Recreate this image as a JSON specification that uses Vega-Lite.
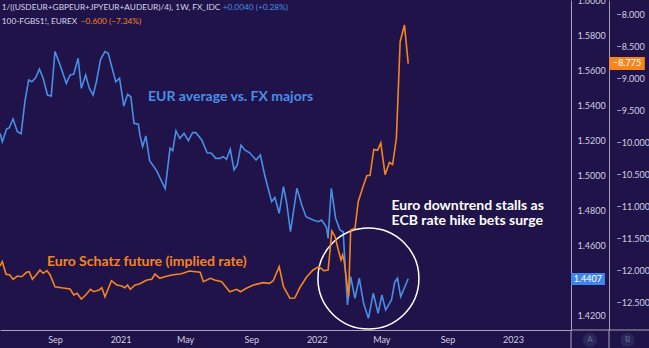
{
  "$schema": "https://vega.github.io/schema/vega-lite/v6.json",
  "width": 571,
  "height": 330,
  "autosize": {"type": "none"},
  "padding": {"left": 0, "top": 0, "right": 78, "bottom": 18},
  "background": "#1f1349",
  "config": {"view": {"stroke": null}, "font": "Lato"},
  "datasets": {
    "eur": [
      {"d":"2020-05-22","v":1.5238},{"d":"2020-05-26","v":1.5190},{"d":"2020-06-03","v":1.5263},{"d":"2020-06-08","v":1.5270},
      {"d":"2020-06-15","v":1.5320},{"d":"2020-06-23","v":1.5247},{"d":"2020-06-30","v":1.5236},{"d":"2020-07-07","v":1.5419},
      {"d":"2020-07-14","v":1.5543},{"d":"2020-07-20","v":1.5533},{"d":"2020-07-27","v":1.5556},{"d":"2020-08-03","v":1.5606},
      {"d":"2020-08-10","v":1.5553},{"d":"2020-08-18","v":1.5457},{"d":"2020-08-25","v":1.5451},{"d":"2020-09-01","v":1.5705},
      {"d":"2020-09-10","v":1.5633},{"d":"2020-09-22","v":1.5524},{"d":"2020-09-29","v":1.5571},{"d":"2020-10-06","v":1.5577},
      {"d":"2020-10-14","v":1.5667},{"d":"2020-10-20","v":1.5495},{"d":"2020-10-28","v":1.5571},{"d":"2020-11-04","v":1.5495},
      {"d":"2020-11-11","v":1.5457},{"d":"2020-11-17","v":1.5533},{"d":"2020-11-25","v":1.5663},{"d":"2020-12-03","v":1.5705},
      {"d":"2020-12-09","v":1.5695},{"d":"2020-12-23","v":1.5533},{"d":"2020-12-30","v":1.5553},{"d":"2021-01-07","v":1.5394},
      {"d":"2021-01-14","v":1.5461},{"d":"2021-01-20","v":1.5447},{"d":"2021-01-26","v":1.5295},{"d":"2021-02-03","v":1.5290},
      {"d":"2021-02-06","v":1.5229},{"d":"2021-02-11","v":1.5162},{"d":"2021-02-17","v":1.5223},{"d":"2021-02-24","v":1.5082},
      {"d":"2021-03-09","v":1.5025},{"d":"2021-03-25","v":1.4922},{"d":"2021-04-03","v":1.5153},{"d":"2021-04-08","v":1.5139},
      {"d":"2021-04-14","v":1.5253},{"d":"2021-04-21","v":1.5210},{"d":"2021-04-29","v":1.5238},{"d":"2021-05-07","v":1.5196},
      {"d":"2021-05-15","v":1.5242},{"d":"2021-05-21","v":1.5242},{"d":"2021-06-01","v":1.5200},{"d":"2021-06-11","v":1.5127},
      {"d":"2021-06-19","v":1.5124},{"d":"2021-06-27","v":1.5095},{"d":"2021-07-05","v":1.5095},{"d":"2021-07-11","v":1.5105},
      {"d":"2021-07-17","v":1.5090},{"d":"2021-07-24","v":1.5147},{"d":"2021-07-31","v":1.5029},{"d":"2021-08-06","v":1.5057},
      {"d":"2021-08-13","v":1.5171},{"d":"2021-08-20","v":1.5143},{"d":"2021-08-29","v":1.5127},{"d":"2021-09-10","v":1.5086},
      {"d":"2021-09-18","v":1.5114},{"d":"2021-09-26","v":1.5000},{"d":"2021-10-09","v":1.4847},{"d":"2021-10-15","v":1.4871},
      {"d":"2021-10-23","v":1.4781},{"d":"2021-10-31","v":1.4933},{"d":"2021-11-06","v":1.4838},{"d":"2021-11-13","v":1.4676},
      {"d":"2021-11-25","v":1.4924},{"d":"2021-12-04","v":1.4829},{"d":"2021-12-12","v":1.4762},{"d":"2021-12-25","v":1.4743},
      {"d":"2022-01-04","v":1.4733},{"d":"2022-01-10","v":1.4743},{"d":"2022-01-19","v":1.4701},{"d":"2022-01-22","v":1.4638},
      {"d":"2022-01-28","v":1.4924},{"d":"2022-02-05","v":1.4753},{"d":"2022-02-13","v":1.4686},{"d":"2022-02-19","v":1.4676},
      {"d":"2022-02-27","v":1.4257},{"d":"2022-03-05","v":1.4419},{"d":"2022-03-13","v":1.4295},{"d":"2022-03-21","v":1.4410},
      {"d":"2022-03-29","v":1.4267},{"d":"2022-04-07","v":1.4181},{"d":"2022-04-16","v":1.4324},{"d":"2022-04-25","v":1.4210},
      {"d":"2022-05-02","v":1.4314},{"d":"2022-05-09","v":1.4229},{"d":"2022-05-20","v":1.4286},{"d":"2022-05-26","v":1.4390},
      {"d":"2022-05-31","v":1.4410},{"d":"2022-06-06","v":1.4305},{"d":"2022-06-20","v":1.4407}
    ],
    "schatz": [
      {"d":"2020-05-22","v":-11.9375},{"d":"2020-05-26","v":-11.870},{"d":"2020-06-02","v":-12.067},{"d":"2020-06-09","v":-12.078},
      {"d":"2020-06-15","v":-12.145},{"d":"2020-06-23","v":-12.094},{"d":"2020-07-01","v":-12.105},{"d":"2020-07-10","v":-12.036},
      {"d":"2020-07-15","v":-12.027},{"d":"2020-07-21","v":-12.145},{"d":"2020-07-29","v":-12.067},{"d":"2020-08-04","v":-12.000},
      {"d":"2020-08-10","v":-12.052},{"d":"2020-08-17","v":-12.011},{"d":"2020-08-23","v":-12.078},{"d":"2020-09-01","v":-12.261},
      {"d":"2020-09-13","v":-12.277},{"d":"2020-09-29","v":-12.297},{"d":"2020-10-06","v":-12.391},{"d":"2020-10-12","v":-12.364},
      {"d":"2020-10-20","v":-12.453},{"d":"2020-10-28","v":-12.391},{"d":"2020-11-06","v":-12.302},{"d":"2020-11-12","v":-12.339},
      {"d":"2020-11-22","v":-12.313},{"d":"2020-11-27","v":-12.277},{"d":"2020-12-03","v":-12.417},{"d":"2020-12-15","v":-12.167},
      {"d":"2020-12-25","v":-12.234},{"d":"2021-01-03","v":-12.250},{"d":"2021-01-09","v":-12.277},{"d":"2021-01-14","v":-12.234},
      {"d":"2021-01-19","v":-12.302},{"d":"2021-01-28","v":-12.234},{"d":"2021-02-05","v":-12.219},{"d":"2021-02-19","v":-12.156},
      {"d":"2021-02-28","v":-12.145},{"d":"2021-03-06","v":-12.063},{"d":"2021-03-15","v":-12.130},{"d":"2021-03-24","v":-12.105},
      {"d":"2021-04-06","v":-12.078},{"d":"2021-04-21","v":-12.063},{"d":"2021-04-27","v":-12.052},{"d":"2021-05-09","v":-12.016},
      {"d":"2021-05-29","v":-12.036},{"d":"2021-06-04","v":-12.183},{"d":"2021-06-17","v":-12.130},{"d":"2021-06-25","v":-12.156},
      {"d":"2021-07-08","v":-12.183},{"d":"2021-07-23","v":-12.339},{"d":"2021-08-05","v":-12.302},{"d":"2021-08-12","v":-12.339},
      {"d":"2021-08-23","v":-12.286},{"d":"2021-09-05","v":-12.234},{"d":"2021-09-23","v":-12.198},{"d":"2021-10-05","v":-12.208},
      {"d":"2021-10-12","v":-12.167},{"d":"2021-10-23","v":-11.948},{"d":"2021-10-31","v":-12.261},{"d":"2021-11-12","v":-12.442},
      {"d":"2021-11-21","v":-12.438},{"d":"2021-12-01","v":-12.266},{"d":"2021-12-06","v":-12.203},{"d":"2021-12-13","v":-12.109},
      {"d":"2021-12-25","v":-12.000},{"d":"2022-01-05","v":-11.948},{"d":"2022-01-14","v":-12.011},{"d":"2022-01-22","v":-12.000},
      {"d":"2022-01-29","v":-11.391},{"d":"2022-02-04","v":-11.480},{"d":"2022-02-10","v":-11.688},{"d":"2022-02-15","v":-11.844},
      {"d":"2022-02-18","v":-11.766},{"d":"2022-02-21","v":-11.870},{"d":"2022-03-01","v":-12.417},{"d":"2022-03-05","v":-11.375},
      {"d":"2022-03-13","v":-11.348},{"d":"2022-03-19","v":-10.933},{"d":"2022-03-29","v":-10.672},{"d":"2022-04-04","v":-10.527},
      {"d":"2022-04-10","v":-10.520},{"d":"2022-04-17","v":-10.117},{"d":"2022-04-24","v":-10.130},{"d":"2022-04-30","v":-10.016},
      {"d":"2022-05-08","v":-10.511},{"d":"2022-05-16","v":-10.320},{"d":"2022-05-22","v":-10.352},{"d":"2022-05-29","v":-9.942},
      {"d":"2022-06-05","v":-8.433},{"d":"2022-06-13","v":-8.172},{"d":"2022-06-20","v":-8.775}
    ],
    "notes": [
      {"kind":"eur","d":"2021-02-21","v":1.54474,"t":"EUR average vs. FX majors"},
      {"kind":"schatz","d":"2020-08-17","v":1.45046,"t":"Euro Schatz future (implied rate)"},
      {"kind":"note","d":"2022-05-20","v":1.48257,"t":"Euro downtrend stalls as"},
      {"kind":"note","d":"2022-05-20","v":1.47343,"t":"ECB rate hike bets surge"}
    ],
    "header": [
      {"kind":"label","d":"2020-05-25","v":1.59571,"t":"1/((USDEUR+GBPEUR+JPYEUR+AUDEUR)/4), 1W, FX_IDC"},
      {"kind":"eur","d":"2021-07-10","v":1.59571,"t":"+0.0040 (+0.28%)"},
      {"kind":"label","d":"2020-05-25","v":1.58726,"t":"100-FGBS1!, EUREX"},
      {"kind":"schatz","d":"2020-10-19","v":1.58726,"t":"−0.600 (−7.34%)"}
    ],
    "focus": [{"d":"2022-04-07","v":1.44086}],
    "frame": [
      {"d":"2023-04-18T19:00:00Z","d2":"2023-09-12T00:00:00Z","v":1.41143,"v2":1.41143},
      {"d":"2023-04-18T19:00:00Z","d2":"2023-04-18T19:00:00Z","v":1.41143,"v2":1.4009},
      {"d":"2023-06-28T12:00:00Z","d2":"2023-06-28T12:00:00Z","v":1.41143,"v2":1.4009}
    ],
    "scaleBadge": [
      {"d":"2023-05-24","v":1.40571,"t":"A"},
      {"d":"2023-08-02","v":1.40571,"t":"B"}
    ],
    "eurTagBox": [{"d":"2023-04-19","d2":"2023-06-21","v":1.43714,"v2":1.444}],
    "eurTagText": [{"d":"2023-05-20","v":1.44057,"t":"1.4407"}],
    "schatzTagBox": [{"d":"2023-06-29","d2":"2023-09-03","v":-8.875,"v2":-8.672}],
    "schatzTagText": [{"d":"2023-08-01","v":-8.773,"t":"−8.775"}]
  },
  "encoding": {
    "x": {
      "field": "d", "type": "temporal",
      "scale": {"type": "utc", "domain": [{"year":2020,"month":5,"date":21,"hours":17,"utc":true},{"year":2023,"month":4,"date":18,"hours":19,"utc":true}]},
      "axis": {
        "values": [
          {"year":2020,"month":9,"date":1,"utc":true},{"year":2021,"month":1,"date":1,"utc":true},
          {"year":2021,"month":5,"date":1,"utc":true},{"year":2021,"month":9,"date":1,"utc":true},
          {"year":2022,"month":1,"date":1,"utc":true},{"year":2022,"month":5,"date":1,"utc":true},
          {"year":2022,"month":9,"date":1,"utc":true},{"year":2023,"month":1,"date":1,"utc":true}
        ],
        "labelExpr": "utcmonth(datum.value) === 0 ? utcFormat(datum.value, '%Y') : utcFormat(datum.value, '%b')",
        "title": null, "grid": false, "ticks": false, "tickSize": 0,
        "domain": true, "domainColor": "#a7a5bb", "domainWidth": 1,
        "labelColor": "#d2d0e0", "labelFontSize": 9, "labelFont": "Lato", "labelPadding": 5,
        "labelFlush": false, "labelOverlap": false
      }
    }
  },
  "layer": [
    {
      "encoding": {
        "y": {
          "field": "v", "type": "quantitative",
          "scale": {"domain": [1.41143, 1.6], "zero": false, "nice": false},
          "axis": {
            "orient": "right", "values": [1.42,1.46,1.48,1.5,1.52,1.54,1.56,1.58,1.6],
            "format": ".4f", "title": null, "grid": false, "ticks": false, "tickSize": 0,
            "domain": true, "domainColor": "#a7a5bb", "domainWidth": 1,
            "labelColor": "#d2d0e0", "labelFontSize": 9, "labelFont": "Lato", "labelPadding": 6,
            "labelAlign": "left", "labelOverlap": false, "labelBound": false, "labelFlush": false
          }
        }
      },
      "layer": [
        {
          "data": {"name": "eur"},
          "mark": {"type": "line", "color": "#4a8ee6", "strokeWidth": 1.6}
        },
        {
          "data": {"name": "focus"},
          "mark": {"type": "point", "shape": "circle", "filled": false, "stroke": "#ffffff", "strokeWidth": 1.5, "size": 10200, "opacity": 1}
        },
        {
          "data": {"name": "notes"},
          "mark": {"type": "text", "align": "left", "baseline": "middle", "font": "Lato", "fontSize": 14, "fontWeight": "bold"},
          "encoding": {
            "text": {"field": "t"},
            "color": {"field": "kind", "type": "nominal", "legend": null,
              "scale": {"domain": ["eur","schatz","note","label"], "range": ["#4a8ee6","#f5851f","#ffffff","#d8d6e6"]}}
          }
        },
        {
          "data": {"name": "header"},
          "mark": {"type": "text", "align": "left", "baseline": "middle", "font": "Lato", "fontSize": 8.3},
          "encoding": {
            "text": {"field": "t"},
            "color": {"field": "kind", "type": "nominal", "legend": null}
          }
        },
        {
          "data": {"name": "frame"},
          "mark": {"type": "rule", "color": "#a7a5bb", "strokeWidth": 1, "clip": false},
          "encoding": {"x2": {"field": "d2"}, "y2": {"field": "v2"}}
        },
        {
          "data": {"name": "scaleBadge"},
          "mark": {"type": "point", "shape": "circle", "filled": true, "color": "#2c275a", "size": 200, "opacity": 1, "clip": false}
        },
        {
          "data": {"name": "scaleBadge"},
          "mark": {"type": "text", "color": "#6f6c93", "fontSize": 8, "font": "Lato", "baseline": "middle", "align": "center", "clip": false},
          "encoding": {"text": {"field": "t"}}
        },
        {
          "data": {"name": "eurTagBox"},
          "mark": {"type": "rect", "color": "#3f86ea", "clip": false},
          "encoding": {"x2": {"field": "d2"}, "y2": {"field": "v2"}}
        },
        {
          "data": {"name": "eurTagText"},
          "mark": {"type": "text", "color": "#ffffff", "fontSize": 9, "font": "Lato", "baseline": "middle", "align": "center", "clip": false},
          "encoding": {"text": {"field": "t"}}
        }
      ]
    },
    {
      "encoding": {
        "y": {
          "field": "v", "type": "quantitative",
          "scale": {"domain": [-12.9375, -7.78125], "zero": false, "nice": false},
          "axis": {
            "orient": "right", "offset": 38,
            "values": [-8,-8.5,-9,-9.5,-10,-10.5,-11,-11.5,-12,-12.5],
            "format": ".3f", "title": null, "grid": false, "ticks": false, "tickSize": 0,
            "domain": true, "domainColor": "#a7a5bb", "domainWidth": 1,
            "labelColor": "#d2d0e0", "labelFontSize": 9, "labelFont": "Lato", "labelPadding": 7,
            "labelAlign": "left", "labelOverlap": false, "labelBound": false, "labelFlush": false
          }
        }
      },
      "layer": [
        {
          "data": {"name": "schatz"},
          "mark": {"type": "line", "color": "#f5851f", "strokeWidth": 1.6}
        },
        {
          "data": {"name": "schatzTagBox"},
          "mark": {"type": "rect", "color": "#f7861c", "clip": false},
          "encoding": {"x2": {"field": "d2"}, "y2": {"field": "v2"}}
        },
        {
          "data": {"name": "schatzTagText"},
          "mark": {"type": "text", "color": "#ffffff", "fontSize": 9, "font": "Lato", "baseline": "middle", "align": "center", "clip": false},
          "encoding": {"text": {"field": "t"}}
        }
      ]
    }
  ],
  "resolve": {"scale": {"y": "independent"}}
}
